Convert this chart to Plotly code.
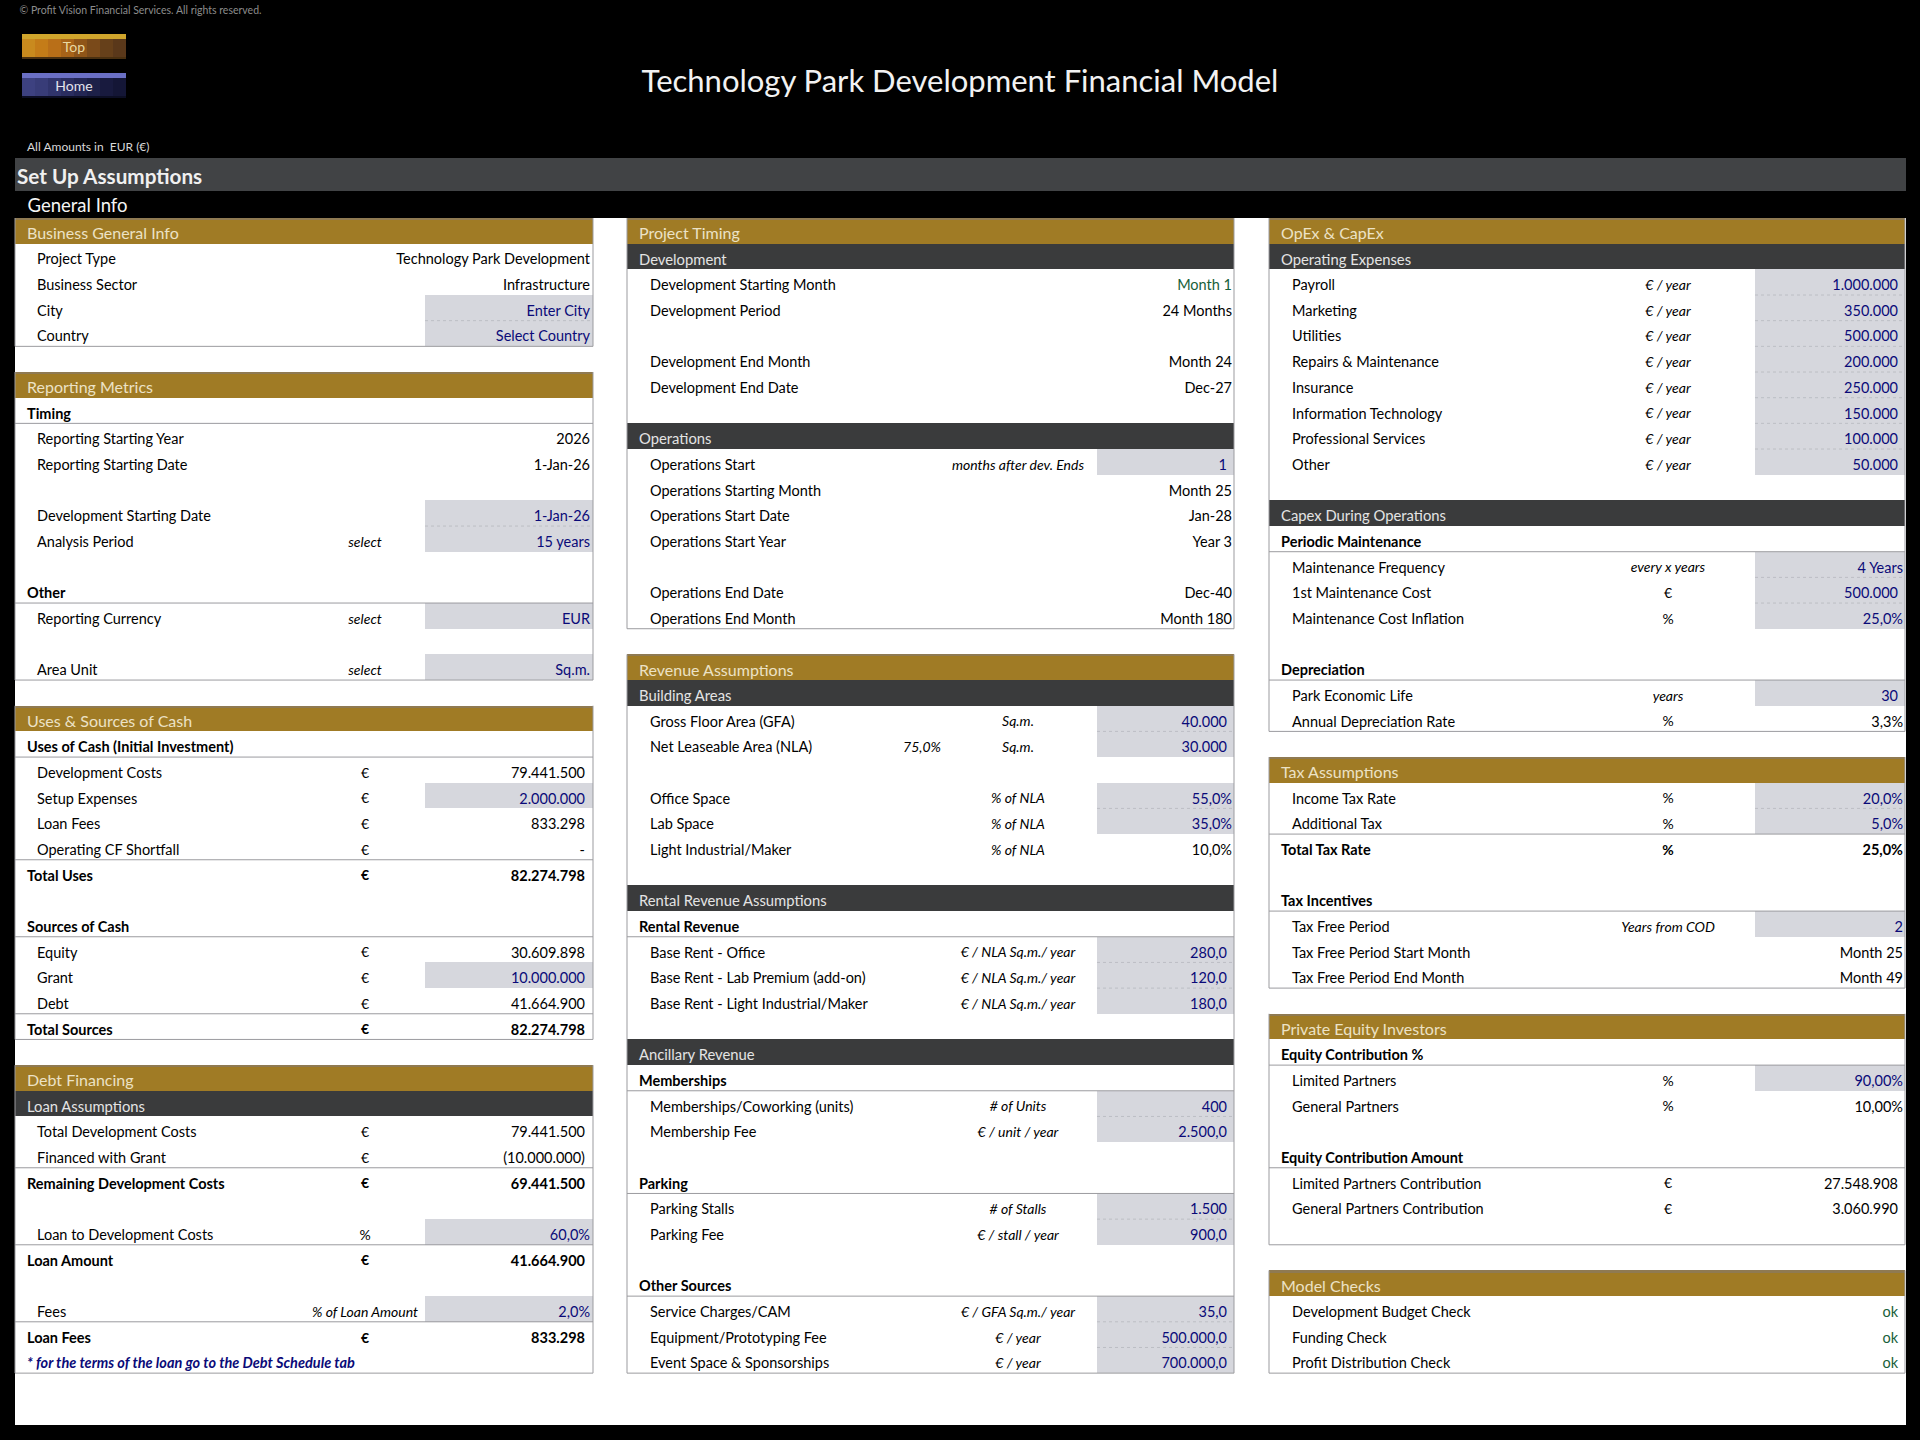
import re
import plotly.graph_objects as go

FONT = "Lato"

# Left column of the sheet, one entry per spreadsheet row
col1_labels = [
    "Business General Info", "Project Type", "Business Sector", "City", "Country", "",
    "Reporting Metrics", "Timing", "Reporting Starting Year", "Reporting Starting Date", "",
    "Development Starting Date", "Analysis Period", "", "Other", "Reporting Currency", "",
    "Area Unit", "",
    "Uses & Sources of Cash", "Uses of Cash (Initial Investment)", "Development Costs",
    "Setup Expenses", "Loan Fees", "Operating CF Shortfall", "Total Uses", "",
    "Sources of Cash", "Equity", "Grant", "Debt", "Total Sources", "",
    "Debt Financing", "Loan Assumptions", "Total Development Costs", "Financed with Grant",
    "Remaining Development Costs", "", "Loan to Development Costs", "Loan Amount", "",
    "Fees", "Loan Fees", "* for the terms of the loan go to the Debt Schedule tab",
]
col1_units = [
    "", "", "", "", "", "",
    "", "", "", "", "",
    "", "select", "", "", "select", "",
    "select", "",
    "", "", "€",
    "€", "€", "€", "€", "",
    "", "€", "€", "€", "€", "",
    "", "", "€", "€",
    "€", "", "%", "€", "",
    "% of Loan Amount", "€", "",
]
col1_values = [
    "", "Technology Park Development", "Infrastructure", "Enter City", "Select Country", "",
    "", "", "2026", "1-Jan-26", "",
    "1-Jan-26", "15 years", "", "", "EUR", "",
    "Sq.m.", "",
    "", "", "79.441.500",
    "2.000.000", "833.298", "-", "82.274.798", "",
    "", "30.609.898", "10.000.000", "41.664.900", "82.274.798", "",
    "", "", "79.441.500", "(10.000.000)",
    "69.441.500", "", "60,0%", "41.664.900", "",
    "2,0%", "833.298", "",
]
col1_kinds = [
    "gold", "item", "item", "input", "input", "",
    "gold", "sub", "item", "item", "",
    "input", "input", "", "sub", "input", "",
    "input", "",
    "gold", "sub", "item",
    "input", "item", "item", "total", "",
    "sub", "item", "input", "item", "total", "",
    "gold", "dark", "item", "item",
    "total", "", "input", "total", "",
    "input", "total", "note",
]

# Middle column
col2_labels = [
    "Project Timing", "Development", "Development Starting Month", "Development Period", "",
    "Development End Month", "Development End Date", "",
    "Operations", "Operations Start", "Operations Starting Month", "Operations Start Date",
    "Operations Start Year", "", "Operations End Date", "Operations End Month", "",
    "Revenue Assumptions", "Building Areas", "Gross Floor Area (GFA)", "Net Leaseable Area (NLA)", "",
    "Office Space", "Lab Space", "Light Industrial/Maker", "",
    "Rental Revenue Assumptions", "Rental Revenue", "Base Rent - Office",
    "Base Rent - Lab Premium (add-on)", "Base Rent - Light Industrial/Maker", "",
    "Ancillary Revenue", "Memberships", "Memberships/Coworking (units)", "Membership Fee", "",
    "Parking", "Parking Stalls", "Parking Fee", "",
    "Other Sources", "Service Charges/CAM", "Equipment/Prototyping Fee", "Event Space & Sponsorships",
]
col2_units = [
    "", "", "", "", "",
    "", "", "",
    "", "months after dev. Ends", "", "",
    "", "", "", "", "",
    "", "", "Sq.m.", "Sq.m.", "",
    "% of NLA", "% of NLA", "% of NLA", "",
    "", "", "€ / NLA Sq.m./ year",
    "€ / NLA Sq.m./ year", "€ / NLA Sq.m./ year", "",
    "", "", "# of Units", "€ / unit / year", "",
    "", "# of Stalls", "€ / stall / year", "",
    "", "€ / GFA Sq.m./ year", "€ / year", "€ / year",
]
col2_values = [
    "", "", "Month 1", "24 Months", "",
    "Month 24", "Dec-27", "",
    "", "1", "Month 25", "Jan-28",
    "Year 3", "", "Dec-40", "Month 180", "",
    "", "", "40.000", "30.000", "",
    "55,0%", "35,0%", "10,0%", "",
    "", "", "280,0",
    "120,0", "180,0", "",
    "", "", "400", "2.500,0", "",
    "", "1.500", "900,0", "",
    "", "35,0", "500.000,0", "700.000,0",
]
col2_kinds = [
    "gold", "dark", "check", "item", "",
    "item", "item", "",
    "dark", "input", "item", "item",
    "item", "", "item", "item", "",
    "gold", "dark", "input", "input", "",
    "input", "input", "item", "",
    "dark", "sub", "input",
    "input", "input", "",
    "dark", "sub", "input", "input", "",
    "sub", "input", "input", "",
    "sub", "input", "input", "input",
]
nla_share = "75,0%"

# Right column
col3_labels = [
    "OpEx & CapEx", "Operating Expenses", "Payroll", "Marketing", "Utilities",
    "Repairs & Maintenance", "Insurance", "Information Technology", "Professional Services", "Other", "",
    "Capex During Operations", "Periodic Maintenance", "Maintenance Frequency", "1st Maintenance Cost",
    "Maintenance Cost Inflation", "", "Depreciation", "Park Economic Life", "Annual Depreciation Rate", "",
    "Tax Assumptions", "Income Tax Rate", "Additional Tax", "Total Tax Rate", "",
    "Tax Incentives", "Tax Free Period", "Tax Free Period Start Month", "Tax Free Period End Month", "",
    "Private Equity Investors", "Equity Contribution %", "Limited Partners", "General Partners", "",
    "Equity Contribution Amount", "Limited Partners Contribution", "General Partners Contribution", "", "",
    "Model Checks", "Development Budget Check", "Funding Check", "Profit Distribution Check",
]
col3_units = [
    "", "", "€ / year", "€ / year", "€ / year",
    "€ / year", "€ / year", "€ / year", "€ / year", "€ / year", "",
    "", "", "every x years", "€",
    "%", "", "", "years", "%", "",
    "", "%", "%", "%", "",
    "", "Years from COD", "", "", "",
    "", "", "%", "%", "",
    "", "€", "€", "", "",
    "", "", "", "",
]
col3_values = [
    "", "", "1.000.000", "350.000", "500.000",
    "200.000", "250.000", "150.000", "100.000", "50.000", "",
    "", "", "4 Years", "500.000",
    "25,0%", "", "", "30", "3,3%", "",
    "", "20,0%", "5,0%", "25,0%", "",
    "", "2", "Month 25", "Month 49", "",
    "", "", "90,00%", "10,00%", "",
    "", "27.548.908", "3.060.990", "", "",
    "", "ok", "ok", "ok",
]
col3_kinds = [
    "gold", "dark", "input", "input", "input",
    "input", "input", "input", "input", "input", "",
    "dark", "sub", "input", "input",
    "input", "", "sub", "input", "item", "",
    "gold", "input", "input", "total", "",
    "sub", "input", "item", "item", "",
    "gold", "sub", "input", "item", "",
    "sub", "item", "item", "pad", "",
    "gold", "check", "check", "check",
]

# Values that sit flush right although they look like plain numbers
flush_values = ["2026", "2"]

title = "Technology Park Development Financial Model"
copyright_text = "© Profit Vision Financial Services. All rights reserved."
amounts_text = "All Amounts in  EUR (€)"
section_title = "Set Up Assumptions"
subsection_title = "General Info"
button_labels = ["Top", "Home"]

# Colours
GOLD = "#a07b25"
GOLD_EDGE = "#8f7a52"
DARK = "#3a3b3c"
BAND = "#414345"
INPUT = "#d6d7dd"
INPUT_RULE = "#bcbec4"
BLUE = "#0a0a78"
GREEN = "#17603a"
LINE = "#9b9b9f"
INK = "#000000"

# x geometry of each sheet column, in page pixels
columns = [
    dict(labels=col1_labels, units=col1_units, values=col1_values, kinds=col1_kinds,
         left=15, right=593, head=27, item=37, unit=365, cell=425, flush=590, pad=585),
    dict(labels=col2_labels, units=col2_units, values=col2_values, kinds=col2_kinds,
         left=627, right=1234, head=639, item=650, unit=1018, cell=1097, flush=1232, pad=1227),
    dict(labels=col3_labels, units=col3_units, values=col3_values, kinds=col3_kinds,
         left=1269, right=1905, head=1281, item=1292, unit=1668, cell=1755, flush=1903, pad=1898),
]

# sheet rows are the y axis unit, these turn page pixels into rows for the header part
ROW_0 = 230.83
ROW_PX = 25.67
TEXT_DROP = 0.17

bars = {}
lines = {}
texts = {}


def rows(px):
    return (px - ROW_0) / ROW_PX


def add_bar(x0, x1, y0, y1, color):
    b = bars.setdefault(color, dict(y=[], base=[], x=[], width=[]))
    b["y"].append((y0 + y1) / 2)
    b["base"].append(x0)
    b["x"].append(x1 - x0)
    b["width"].append(y1 - y0)


def add_line(x0, x1, y0, y1, color=LINE, width=1, dash="solid"):
    l = lines.setdefault((color, width, dash), dict(x=[], y=[]))
    l["x"] += [x0, x1, None]
    l["y"] += [y0, y1, None]


def add_text(x, y, s, color=INK, size=14.5, pos="middle right", weight="normal", style="normal"):
    t = texts.setdefault((color, size, pos, weight, style), dict(x=[], y=[], text=[]))
    t["x"].append(x)
    t["y"].append(y)
    t["text"].append(s)


# page frame
add_bar(15, 1905.5, -0.5, rows(1425), "#ffffff")
add_bar(15, 1905.5, rows(158), rows(191), BAND)
add_text(960, rows(84), title, "#f2f2f2", 31, "middle center")
add_text(17, rows(179), section_title, "#f0f0f0", 20.7, weight="bold")
add_text(27.5, rows(207), subsection_title, "#f5f5f5", 18.5)
add_text(19.5, rows(11), copyright_text, "#8c8c8c", 10.5)
add_text(27, rows(148), amounts_text, "#d8d8d8", 12)

# buttons: light top edge, left to right shading, dark lower edge
button_edges = ["#d0a52c", "#6a6fc4"]
button_shades = [
    ["#c98a1e", "#c47c18", "#b96f18", "#a86318", "#8f5518", "#7a4a1a", "#66401a", "#5a381a"],
    ["#3d4180", "#383c78", "#30346c", "#2a2d60", "#232654", "#1d2048", "#181a3e", "#141636"],
]
button_lows = ["#4a3010", "#0c0e24"]
button_inks = ["#ead9a2", "#e4e4ec"]
button_tops = [34, 73]
for name, edge, shades, low, ink, top in zip(button_labels, button_edges, button_shades,
                                             button_lows, button_inks, button_tops):
    step = 104 / len(shades)
    for i, shade in enumerate(shades):
        add_bar(22 + i * step, 22 + (i + 1) * step, rows(top + 5), rows(top + 23), shade)
    add_bar(22, 126, rows(top), rows(top + 5), edge)
    add_bar(22, 126, rows(top + 23), rows(top + 25), low)
    add_text(74, rows(top + 14), name, ink, 14, "middle center")

for col in columns:
    kinds = col["kinds"]
    panel_start = None
    last_used = None
    for r, kind in enumerate(kinds):
        if kind == "gold":
            if panel_start is not None:
                add_line(col["left"], col["left"], panel_start - 0.5, last_used + 0.5)
                add_line(col["right"], col["right"], panel_start - 0.5, last_used + 0.5)
                add_line(col["left"], col["right"], last_used + 0.5, last_used + 0.5)
            panel_start = r
        if kind:
            last_used = r
    add_line(col["left"], col["left"], panel_start - 0.5, last_used + 0.5)
    add_line(col["right"], col["right"], panel_start - 0.5, last_used + 0.5)
    add_line(col["left"], col["right"], last_used + 0.5, last_used + 0.5)

    for r, (label, unit, value, kind) in enumerate(zip(col["labels"], col["units"], col["values"], kinds)):
        ty = r + TEXT_DROP
        if kind == "gold":
            add_bar(col["left"], col["right"], r - 0.5, r + 0.5, GOLD)
            add_bar(col["left"], col["right"], r - 0.5, r - 0.42, GOLD_EDGE)
            add_text(col["head"], ty, label, "#ece2c6", 16)
            continue
        if kind == "dark":
            add_bar(col["left"], col["right"], r - 0.5, r + 0.5, DARK)
            add_text(col["head"], ty, label, "#e4e4e4", 14.8)
            continue
        if kind == "sub":
            add_text(col["head"], ty, label, weight="bold")
            add_line(col["left"], col["right"], r + 0.5, r + 0.5)
            continue
        if kind == "note":
            add_text(col["head"], ty, label, BLUE, weight="bold", style="italic")
            continue
        if kind == "total":
            add_line(col["left"], col["right"], r - 0.5, r - 0.5)
            add_text(col["head"], ty, label, weight="bold")
        elif label:
            add_text(col["item"], ty, label)
        if unit:
            add_text(col["unit"], ty, unit, size=14, pos="middle center",
                     style="normal" if unit in ("€", "%") else "italic",
                     weight="bold" if kind == "total" else "normal")
        if kind == "input":
            add_bar(col["cell"], col["right"], r - 0.5, r + 0.5, INPUT)
            if r + 1 < len(kinds) and kinds[r + 1] == "input":
                add_line(col["cell"], col["right"], r + 0.5, r + 0.5, INPUT_RULE, 1, "dot")
        if value:
            plain = re.fullmatch(r"\(?[\d.,]+\)?|-|ok", value) and value not in flush_values
            edge = col["pad"] if plain else col["flush"]
            color = {"input": BLUE, "check": GREEN}.get(kind, INK)
            add_text(edge, ty, value, color, pos="middle left",
                     weight="bold" if kind == "total" else "normal")

# the one extra figure sitting in front of the NLA unit
add_text(922, col2_labels.index("Net Leaseable Area (NLA)") + TEXT_DROP, nla_share,
         size=14, pos="middle center", style="italic")

fig = go.Figure()
for color, b in bars.items():
    fig.add_trace(go.Bar(y=b["y"], x=b["x"], base=b["base"], width=b["width"], orientation="h",
                         marker=dict(color=color, line=dict(width=0)), hoverinfo="skip", showlegend=False))
for (color, width, dash), l in lines.items():
    fig.add_trace(go.Scatter(x=l["x"], y=l["y"], mode="lines", line=dict(color=color, width=width, dash=dash),
                             hoverinfo="skip", showlegend=False))
for (color, size, pos, weight, style), t in texts.items():
    fig.add_trace(go.Scatter(x=t["x"], y=t["y"], text=t["text"], mode="text", textposition=pos,
                             textfont=dict(family=FONT, size=size, color=color, weight=weight, style=style),
                             hoverinfo="skip", showlegend=False))

fig.update_layout(
    width=1920, height=1440, autosize=False,
    margin=dict(l=0, r=0, t=0, b=0),
    paper_bgcolor="#000000", plot_bgcolor="#000000",
    barmode="overlay", bargap=0,
    xaxis=dict(range=[0, 1920], visible=False, fixedrange=True),
    yaxis=dict(range=[rows(1440), rows(0)], visible=False, fixedrange=True),
)
fig.write_html("out.html", config={"displayModeBar": False},
               post_script="document.body.style.margin='0';document.body.style.background='#000';")
